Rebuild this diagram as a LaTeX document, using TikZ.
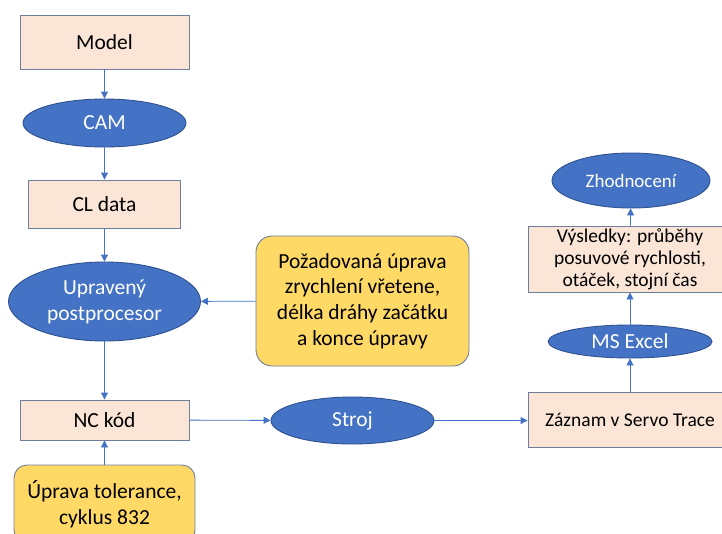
\documentclass[tikz,border=0pt]{standalone}
\usepackage{fontspec}
\setmainfont{Carlito}
\usetikzlibrary{shapes.geometric,arrows.meta}
\definecolor{peach}{HTML}{FBE5D6}
\definecolor{obl}{HTML}{4472C4}
\definecolor{oblb}{HTML}{2F528F}
\definecolor{yel}{HTML}{FFD966}
\definecolor{rbord}{HTML}{6F7F99}
\tikzset{
  rbox/.style={rectangle, draw=rbord, fill=peach, line width=0.9pt, inner sep=0pt, align=center, text=black},
  obox/.style={ellipse, draw=oblb, fill=obl, line width=0.9pt, inner sep=0pt, align=center, text=white},
  ybox/.style={rectangle, rounded corners=16pt, draw=rbord, fill=yel, line width=0.9pt, inner sep=0pt, align=center, text=black},
  big/.style={font=\fontsize{21.5}{25.8}\selectfont},
  small/.style={font=\fontsize{19.5}{22}\selectfont},
  conn/.style={draw=obl, line width=0.9pt, -{Triangle[length=7pt,width=7pt]}}
}
\begin{document}
\begin{tikzpicture}[x=1pt,y=-1pt]
\clip (0,0) rectangle (722,533);
\fill[white] (0,0) rectangle (722,533);
\node[rbox,big,minimum width=169pt,minimum height=54pt] (model) at (104.5,42) {Model};
\node[obox,big,minimum width=163pt,minimum height=48pt] (cam) at (104.5,123) {CAM};
\node[rbox,big,minimum width=152pt,minimum height=48pt] (cl) at (104.5,204) {CL data};
\node[obox,big,minimum width=192pt,minimum height=79pt] (upr) at (104.5,301.5) {Upravený\\postprocesor};
\node[ybox,big,minimum width=213pt,minimum height=130pt] (poz) at (362.5,301) {Požadovaná úprava\\zrychlení vřetene,\\délka dráhy začátku\\a konce úpravy};
\node[rbox,big,minimum width=169pt,minimum height=40pt] (nc) at (104.5,420) {NC kód};
\node[ybox,big,rounded corners=13pt,minimum width=181pt,minimum height=78pt] (tol) at (104.5,504) {Úprava tolerance,\\cyklus 832};
\node[obox,big,minimum width=163pt,minimum height=47pt] (stroj) at (352.5,420.5) {Stroj};
\node[rbox,small,minimum width=204pt,minimum height=55pt] (zaz) at (630,419.5) {Záznam v Servo Trace};
\node[obox,big,minimum width=164pt,minimum height=33pt] (excel) at (630,341.5) {MS Excel};
\node[rbox,small,minimum width=204pt,minimum height=66pt] (vys) at (630,259) {Výsledky: průběhy\\posuvové rychlosti,\\otáček, stojní čas};
\node[obox,font=\fontsize{19}{23}\selectfont,minimum width=158pt,minimum height=55pt] (zh) at (631,180.5) {Zhodnocení};
\draw[conn] (model) -- (cam);
\draw[conn] (cam) -- (cl);
\draw[conn] (cl) -- (upr);
\draw[conn] (poz) -- (upr);
\draw[conn] (upr) -- (nc);
\draw[conn] (tol) -- (nc);
\draw[conn] (nc) -- (stroj);
\draw[conn] (stroj) -- (zaz.west |- stroj);
\draw[conn] (zaz) -- (excel);
\draw[conn] (excel) -- (vys);
\draw[conn] (vys) -- (zh);
\end{tikzpicture}
\end{document}
